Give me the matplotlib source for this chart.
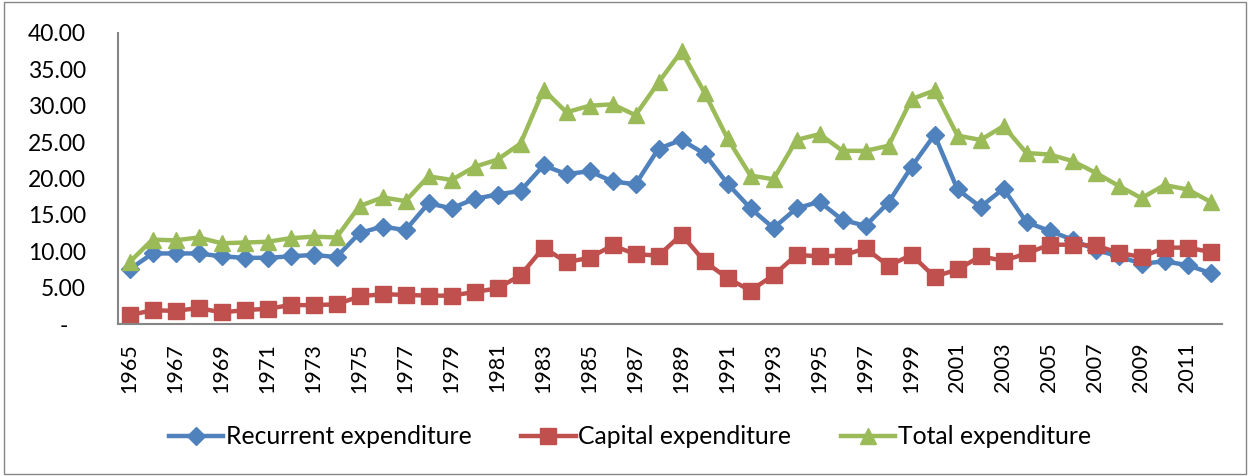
import matplotlib.pyplot as plt
from matplotlib.patches import Rectangle

years = list(range(1965, 2013))

recurrent = [7.5, 9.7, 9.7, 9.7, 9.3, 9.1, 9.1, 9.3, 9.5, 9.2,
             12.5, 13.4, 12.9, 16.6, 15.9, 17.2, 17.8, 18.3, 21.8, 20.6,
             21.0, 19.6, 19.2, 24.1, 25.3, 23.4, 19.3, 15.9, 13.2, 15.9,
             16.8, 14.3, 13.5, 16.7, 21.6, 26.0, 18.5, 16.1, 18.6, 14.0,
             12.8, 11.6, 10.2, 9.3, 8.3, 8.6, 8.1, 7.0]

capital = [1.2, 1.9, 1.8, 2.2, 1.6, 1.9, 2.1, 2.6, 2.6, 2.7,
           3.8, 4.1, 4.0, 3.9, 3.9, 4.4, 4.9, 6.7, 10.5, 8.5,
           9.1, 10.8, 9.6, 9.4, 12.3, 8.6, 6.3, 4.6, 6.7, 9.5,
           9.3, 9.4, 10.4, 8.0, 9.5, 6.5, 7.5, 9.3, 8.7, 9.7,
           10.9, 10.9, 10.8, 9.8, 9.2, 10.5, 10.5, 9.9]

total = [8.5, 11.6, 11.5, 11.9, 11.1, 11.2, 11.3, 11.8, 12.0, 11.9,
         16.2, 17.4, 16.9, 20.3, 19.8, 21.6, 22.6, 24.8, 32.2, 29.1,
         30.0, 30.2, 28.7, 33.2, 37.5, 31.8, 25.5, 20.4, 19.9, 25.3,
         26.1, 23.8, 23.8, 24.5, 30.9, 32.1, 25.9, 25.3, 27.2, 23.5,
         23.3, 22.4, 20.8, 19.0, 17.3, 19.1, 18.5, 16.8]

series = [
    ("Recurrent expenditure", recurrent, "#4F81BD", "D", 9.5),
    ("Capital expenditure", capital, "#C0504D", "s", 11),
    ("Total expenditure", total, "#9BBB59", "^", 12),
]

plt.rcParams['font.family'] = ['Lato', 'DejaVu Sans']

fig = plt.figure(figsize=(12.5, 4.76), dpi=100)
ax = fig.add_axes([0.0944, 0.3193, 0.8832, 0.6114])

# outer chart frame
fig.patches.append(Rectangle((0.003, 0.004), 0.994, 0.992, transform=fig.transFigure,
                             fill=False, edgecolor="#868686", linewidth=1))

x = list(range(len(years)))
for name, vals, color, marker, ms in series:
    ax.plot(x, vals, color=color, linewidth=3.2, marker=marker, markersize=ms,
            markeredgecolor=color, label=name, solid_joinstyle='round')

ax.set_xlim(-0.5, len(years) - 0.5)
ax.set_ylim(0, 40)
ax.set_yticks(range(0, 41, 5))
# accounting style: zero shown as a dash, a bit left of the number column
ax.set_yticklabels(['-   '] + [f"{v:.2f}" for v in range(5, 41, 5)], fontsize=16.5)

ax.set_xticks(x[::2])
ax.set_xticklabels([str(y) for y in years[::2]], rotation=90, fontsize=15.5)
ax.tick_params(axis='both', length=0)
ax.tick_params(axis='x', pad=13.5)
ax.tick_params(axis='y', pad=23)

for side in ['top', 'right']:
    ax.spines[side].set_visible(False)
for side in ['left', 'bottom']:
    ax.spines[side].set_color("#868686")
    ax.spines[side].set_linewidth(1.5)

handles, labels = ax.get_legend_handles_labels()
fig.legend(handles, labels, loc='center', bbox_to_anchor=(0.504, 0.082), ncol=3,
           frameon=False, fontsize=17.8, handlelength=2.2, columnspacing=2.0,
           handletextpad=0.12, borderpad=0)

fig.savefig("out.png", dpi=100)
